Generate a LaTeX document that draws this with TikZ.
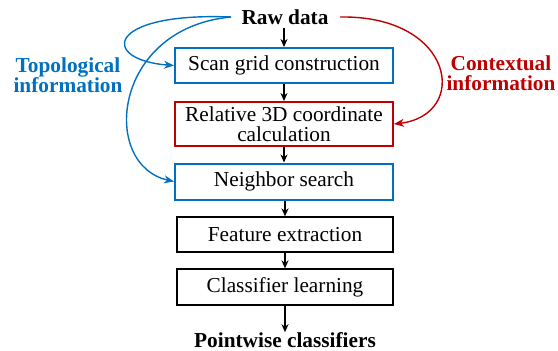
\documentclass[tikz,border=0pt]{standalone}
\usepackage{fontspec}
\setmainfont{Liberation Serif}
\usetikzlibrary{arrows.meta}
\definecolor{topoblue}{RGB}{0,112,192}
\definecolor{ctxred}{RGB}{192,0,0}
\begin{document}
\begin{tikzpicture}[x=1pt,y=-1pt,
  font=\fontsize{21.3}{20}\selectfont,
  stage/.style={draw=black,line width=1.3pt,minimum width=218pt,minimum height=35pt,inner sep=0pt,align=center},
  bluestage/.style={stage,draw=topoblue,line width=2pt},
  redstage/.style={stage,draw=ctxred,line width=2pt},
  flow/.style={-{Stealth[length=8pt,width=7pt]},line width=1.3pt},
  link/.style={-{Stealth[length=10pt,width=8pt]},line width=1.4pt},
  label/.style={font=\fontsize{21.3}{20}\selectfont\bfseries,align=center,inner sep=0pt}]
\useasboundingbox (0,0) rectangle (558,351);

\node[label] (raw) at (285,17) {Raw data};
\node[bluestage] (scan) at (284,65.5) {Scan grid construction};
\node[redstage,minimum height=44pt] (rel) at (284,124) {Relative 3D coordinate\\calculation};
\node[bluestage,minimum height=36pt] (nbr) at (284,181.5) {Neighbor search};
\node[stage,minimum width=216pt] (feat) at (285,234.5) {Feature extraction};
\node[stage,minimum width=216pt,minimum height=36pt] (cls) at (285,287) {Classifier learning};
\node[label] (pw) at (285,340) {Pointwise classifiers};

\node[label,text=topoblue] (topo) at (68,75) {Topological\\information};
\node[label,text=ctxred] (ctx) at (501,73) {Contextual\\information};

\coordinate (rawL) at (231,17);
\coordinate (rawR) at (340,17);

% main pipeline
\draw[flow] (raw.south -| scan.north) ++(0,3) -- (scan.north);
\draw[flow] (scan.south) -- (rel.north);
\draw[flow] (rel.south) -- (nbr.north);
\draw[flow] (nbr.south -| feat.north) -- (feat.north);
\draw[flow] (feat.south) -- (cls.north);
\draw[flow] (cls.south) -- (pw.north);

% topological links
\draw[link,topoblue] (rawL) .. controls (105,12) and (100,60) .. (scan.west);
\draw[link,topoblue] (rawL) .. controls (112,28) and (100,165) .. (nbr.west);

% contextual link
\draw[link,ctxred] (rawR) .. controls (455,15) and (470,115) .. (rel.east);
\end{tikzpicture}
\end{document}
